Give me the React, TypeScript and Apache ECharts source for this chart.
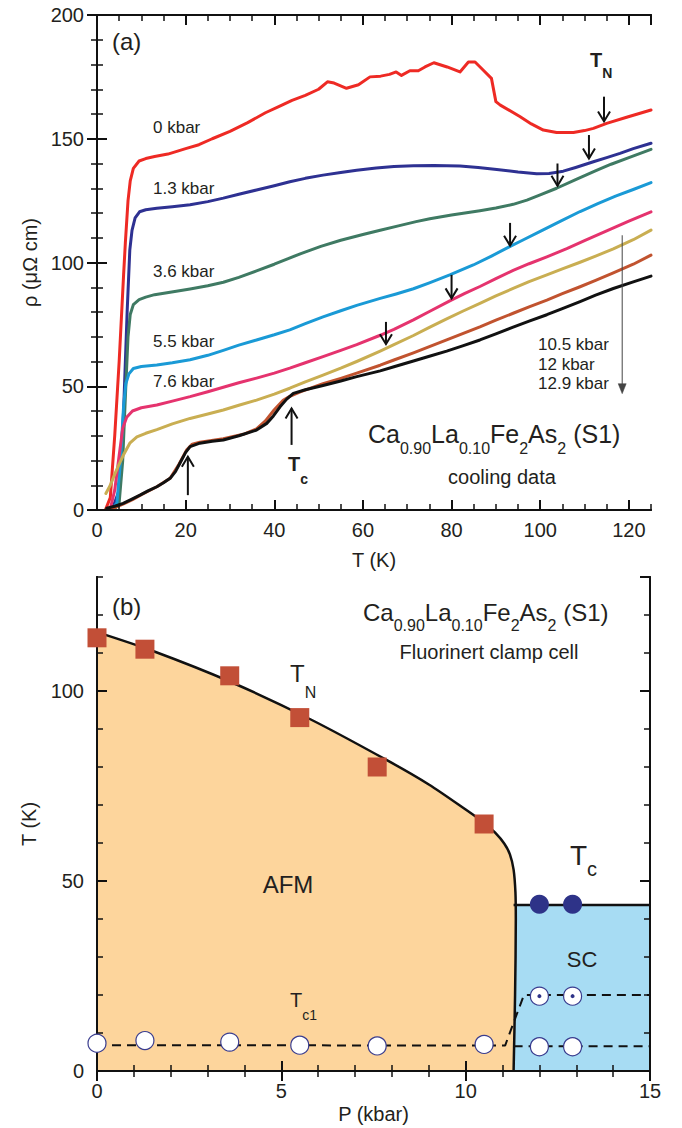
import React, { useEffect, useRef } from 'react';
import * as echarts from 'echarts';

const FONT = '"Liberation Sans", Arial, Helvetica, sans-serif';
const INK = '#231f20';

// ---------- panel (a): resistivity curves, [T (K), rho (μΩ cm)] ----------
const RHO_0_KBAR: [number, number][] = [
  [2, 0.5], [3, 5], [4, 30], [5, 60], [6, 95], [6.4, 108], [7, 125], [7.5, 133], [8.2, 138], [9.5, 141],
  [11, 142], [13, 142.8], [16, 143.8], [20, 146], [23, 147.6], [26, 150], [30, 153], [34, 156.5],
  [38, 160.5], [41, 163], [44, 165.5], [47, 167.5], [50, 170], [52, 173], [53.5, 172.5], [56.3, 170.4],
  [59, 171.8], [61.6, 175], [64, 175.3], [66, 176], [67.5, 177], [68.7, 175.6], [70.6, 177.5],
  [72.5, 177.5], [74, 179], [76, 180.7], [79, 179], [81.9, 177], [83.8, 181], [85.3, 181], [87, 178],
  [89, 174.4], [90, 165], [91, 163.6], [95.4, 159], [98, 156], [100.7, 153.5], [103.7, 152.5],
  [107.5, 152.5], [110, 153.3], [112, 154.2], [115, 156.2], [119.5, 158.7], [125, 161.6],
];
const RHO_1_3_KBAR: [number, number][] = [
  [3.5, 0.5], [5, 8], [6, 40], [6.8, 80], [7.4, 105], [7.9, 113], [8.6, 118], [9.6, 120.5], [11, 121.3],
  [13.5, 121.9], [17, 122.5], [21, 123.3], [25, 124.6], [28.5, 126], [32, 127.6], [36, 129.3], [40, 131],
  [43.5, 132.6], [47, 134], [51, 135.3], [55, 136.4], [58.6, 137.3], [63, 138.2], [67, 138.8],
  [71.4, 139.1], [76, 139.2], [81.9, 139], [86, 138.4], [90.2, 137.6], [95, 136.6], [99.2, 135.9],
  [102, 136], [105.2, 136.9], [108, 138.4], [112, 140.7], [115, 142.4], [118, 144.1], [121, 146],
  [125, 148.2],
];
const RHO_3_6_KBAR: [number, number][] = [
  [4, 0.5], [5, 3], [5.8, 20], [6.5, 50], [7, 70], [7.5, 79], [8.2, 83], [9.5, 85], [11, 86], [13, 87],
  [17.2, 88.2], [21, 89.3], [25, 90.6], [28.5, 92], [32, 94], [36, 96.6], [40, 99.3], [43, 101.5],
  [46, 103.6], [50.5, 106.5], [55, 109], [60, 111.3], [63.9, 113], [68, 114.8], [72, 116.5], [75.1, 117.7],
  [80, 119.2], [86.4, 120.9], [90, 122], [93.9, 123.5], [97, 125.2], [100, 127.3], [103.7, 130],
  [108, 133.5], [112.7, 137.2], [116, 139.7], [120, 142.4], [125, 145.7],
];
const RHO_5_5_KBAR: [number, number][] = [
  [3.5, 0.5], [4.5, 3], [5.3, 20], [6, 42], [6.5, 51], [7.2, 55], [8.2, 57.2], [10, 58], [13.5, 58.6],
  [17, 59.5], [21, 60.7], [25, 62.5], [28.5, 64.5], [32, 66.6], [36, 68.7], [40, 70.8], [43.5, 72.8],
  [47, 75.3], [51, 78], [55, 80.5], [58.6, 82.7], [63.9, 85.5], [67.5, 87.3], [71.4, 89.4], [75, 91.8],
  [79.6, 95], [84.9, 99], [89, 102.6], [93, 106.3], [96, 109], [100, 112.6], [104.5, 116.6], [109, 120.6],
  [113, 123.8], [117, 126.8], [121, 129.5], [125, 132.3],
];
const RHO_7_6_KBAR: [number, number][] = [
  [3, 0.5], [4, 8], [5, 22], [5.8, 33], [6.7, 37.5], [8, 40], [10, 41.3], [13.5, 42.4], [17, 44],
  [21, 45.8], [25, 47.8], [28.5, 49.6], [32, 51.4], [36, 53.3], [40, 55.3], [43.5, 57.3], [47, 59.5],
  [51, 62], [55, 64.5], [58.6, 66.8], [63.9, 70.6], [67, 73], [71.4, 76.8], [75, 80.2], [79.6, 84.5],
  [83, 87.5], [86.4, 90.3], [90, 93.5], [93.9, 96.8], [97.5, 99.5], [101.5, 102.3], [106, 105.6],
  [110, 108.8], [115, 112.8], [120, 116.7], [125, 120.5],
];
const RHO_10_5_KBAR: [number, number][] = [
  [2, 6.7], [3, 10], [4, 14.5], [5, 18.5], [5.9, 22], [7.4, 27], [9, 29.5], [11, 31], [13.5, 32.5],
  [17, 34.8], [21, 37], [25, 38.8], [28.5, 40.4], [32, 42.3], [36, 44.4], [40, 46.8], [43.5, 49.2],
  [47, 51.8], [51, 54.5], [55, 57.3], [58.6, 60], [63.9, 64.2], [67, 66.8], [71.4, 70.5], [75, 73.8],
  [78.9, 77.2], [82.5, 80.3], [86.4, 83.5], [90, 86.5], [93.9, 89.5], [97.5, 92.3], [101.5, 95],
  [105, 97.4], [109, 100.1], [112.5, 102.6], [116.5, 105.5], [121, 109.2], [125, 113.1],
];
const RHO_12_KBAR: [number, number][] = [
  [2, 0.3], [4, 1], [6, 2.5], [8, 4.2], [10, 6.2], [13.5, 9.4], [16.5, 12.8], [18.5, 18.5], [20.2, 24.2],
  [21.5, 26.6], [23.2, 27.4], [28.5, 28.8], [33, 30.6], [36, 32.8], [38, 36], [40, 40.5], [42, 44.3],
  [43.5, 45.9], [46, 47.8], [51, 51], [55, 53.2], [58.6, 55.3], [63.9, 58.5], [67, 60.6], [71.4, 63.5],
  [75, 66], [78.9, 68.7], [82.5, 71.3], [86.4, 74], [90, 76.7], [93.9, 79.5], [97.5, 82.1], [101.5, 84.8],
  [105, 87.4], [109, 90.2], [112.5, 92.8], [116.5, 95.8], [121, 99.3], [125, 103],
];
const RHO_12_9_KBAR: [number, number][] = [
  [2.2, 0.7], [4, 1.5], [5.9, 2.7], [8, 4.5], [9.7, 6], [11.5, 7.7], [13.5, 9.4], [15, 11], [16.5, 12.8],
  [17.7, 15.5], [18.7, 18.9], [20, 23.3], [21, 25.6], [23.2, 27], [26, 27.8], [28.5, 28.3], [32, 30],
  [36, 32.3], [38.3, 35], [39.8, 38], [41.3, 41.7], [42.8, 44.8], [44.3, 47.1], [47, 48.6], [51, 50.3],
  [55, 52.1], [58.6, 53.9], [63.9, 56.2], [67, 57.9], [71.4, 60.2], [75, 62.1], [78.9, 64.2], [82.5, 66.3],
  [86.4, 68.7], [90, 71.2], [93.9, 73.9], [97.5, 76.3], [101.5, 78.9], [105, 81.4], [109, 84.2],
  [112.5, 86.8], [116.5, 89.5], [121, 92.2], [125, 94.5],
];
const CURVE_COLORS = ['#ee2a24', '#2e3192', '#3f7a63', '#1a9ad6', '#e5336e', '#c9ae52', '#c1532f', '#111111'];

// arrows: [T, rho start, rho tip]
const TN_ARROWS: [number, number, number][] = [
  [114.4, 167, 157], [111, 151.5, 142], [103.9, 140, 131], [93.2, 116, 106.8], [80, 95, 85.5], [65.2, 76, 67],
];
const TC_ARROWS: [number, number, number][] = [[20.5, 6, 21.5], [43.9, 26.3, 41]];
const PRESSURE_ARROW: [number, number, number][] = [[118.5, 111, 47]];

// ---------- panel (b): phase diagram, [P (kbar), T (K)] ----------
const TN_POINTS: [number, number][] = [[0, 114], [1.3, 111], [3.6, 104], [5.5, 93], [7.6, 80], [10.5, 65]];
const TC_POINTS: [number, number][] = [[12, 43.9], [12.9, 43.9]];
const TC1_POINTS: [number, number][] = [
  [0, 7.3], [1.3, 8], [3.6, 7.6], [5.5, 6.8], [7.6, 6.6], [10.5, 7], [12, 6.4], [12.9, 6.4],
];
const TC2_POINTS: [number, number][] = [[12, 19.7], [12.9, 19.7]];
const AFM_BOUNDARY: [number, number][] = [
  [0, 115.5], [1.5, 110.6], [3.6, 102.5], [5.8, 92.5], [7.9, 81.6], [9, 75.4], [10, 68.8], [10.5, 65.3],
  [10.8, 62.7], [11.05, 59.8], [11.2, 57], [11.3, 53], [11.35, 47], [11.36, 40], [11.34, 20], [11.3, 0],
];
const SC_BOUNDARY: [number, number][] = [[11.3, 43.7], [15, 43.7]];
const DASH_LOWER_LEFT: [number, number][] = [[0, 6.8], [11.07, 6.7], [11.58, 20], [15, 20]];
const DASH_LOWER_RIGHT: [number, number][] = [[11.3, 6.5], [15, 6.5]];

const X_TICKS_A = { major: 20, minor: 5 };

function arrowRender(filled: boolean, color: string, width: number, headLen: number, headHalf: number) {
  return (params: any, api: any) => {
    const p1 = api.coord([api.value(0), api.value(1)]);
    const p2 = api.coord([api.value(0), api.value(2)]);
    const dir = p2[1] > p1[1] ? 1 : -1;
    const head = [
      [p2[0] - headHalf, p2[1] - dir * headLen],
      [p2[0], p2[1]],
      [p2[0] + headHalf, p2[1] - dir * headLen],
    ];
    return {
      type: 'group',
      children: [
        {
          type: 'line',
          shape: { x1: p1[0], y1: p1[1], x2: p2[0], y2: p2[1] - (filled ? dir * headLen * 0.6 : 0) },
          style: { stroke: color, lineWidth: width, fill: 'none' },
        },
        filled
          ? { type: 'polygon', shape: { points: head }, style: { fill: color, stroke: color, lineWidth: 0.5 } }
          : { type: 'polyline', shape: { points: head }, style: { stroke: color, lineWidth: width, fill: 'none' } },
      ],
    };
  };
}

function subText(x: number, yCenter: number, segs: [string, boolean][], m: number, s: number, drop: number, weight = 'normal') {
  const text = segs.map(([t, isSub]) => `{${isSub ? 's' : 'm'}|${t}}`).join('');
  const L = drop + (m + s) / 2;
  return {
    type: 'text',
    x,
    y: yCenter - m / 2,
    z: 100,
    style: {
      text,
      align: 'left',
      verticalAlign: 'top',
      rich: {
        m: { fontSize: m, lineHeight: m, verticalAlign: 'top', fontFamily: FONT, fill: INK, fontWeight: weight },
        s: { fontSize: s, lineHeight: Math.max(L, m), verticalAlign: 'bottom', fontFamily: FONT, fill: INK, fontWeight: weight },
      },
    },
  };
}

function plain(x: number, y: number, text: string, size: number, align = 'left') {
  return {
    type: 'text',
    x,
    y,
    z: 100,
    style: { text, fontSize: size, fontFamily: FONT, fill: INK, align, verticalAlign: 'middle' },
  };
}

export default function App() {
  const ref = useRef<HTMLDivElement>(null);
  useEffect(() => {
    document.body.style.margin = '0';
    if (!ref.current) return;
    const chart = echarts.init(ref.current, undefined, { renderer: 'svg' });

    const axisLine = { show: true, lineStyle: { color: '#111', width: 2 } };
    const label = (show: boolean, margin = 10, showMax = false) => ({
      show, fontSize: 20, fontFamily: FONT, color: INK, margin, showMaxLabel: showMax,
    });
    const tick = (len: number, w = 2) => ({ show: true, inside: true, length: len, lineStyle: { color: '#111', width: w } });
    const minor = { show: true, splitNumber: 5, length: 6, lineStyle: { color: '#111', width: 1.5 } };
    const nameStyle = { fontSize: 20, fontFamily: FONT, color: INK };
    const noSplit = { show: false };

    const xAxis: any[] = [
      { gridIndex: 0, type: 'value', position: 'bottom', min: 0, max: 125, interval: X_TICKS_A.major, axisLine, axisTick: tick(10), axisLabel: label(true, 10), splitLine: noSplit, name: 'T (K)', nameLocation: 'middle', nameGap: 40, nameTextStyle: nameStyle, z: 3 },
      { gridIndex: 0, type: 'value', position: 'bottom', min: 0, max: 125, interval: X_TICKS_A.minor, axisLine, axisTick: tick(6, 1.5), axisLabel: { show: false }, splitLine: noSplit, z: 3 },
      { gridIndex: 0, type: 'value', position: 'top', min: 0, max: 125, interval: X_TICKS_A.major, axisLine, axisTick: tick(10), axisLabel: { show: false }, splitLine: noSplit, z: 3 },
      { gridIndex: 0, type: 'value', position: 'top', min: 0, max: 125, interval: X_TICKS_A.minor, axisLine, axisTick: tick(6, 1.5), axisLabel: { show: false }, splitLine: noSplit, z: 3 },
      { gridIndex: 1, type: 'value', position: 'bottom', min: 0, max: 15, interval: 5, axisLine, axisTick: tick(10), minorTick: minor, axisLabel: label(true, 10, true), splitLine: noSplit, name: 'P (kbar)', nameLocation: 'middle', nameGap: 33, nameTextStyle: nameStyle, z: 3 },
      { gridIndex: 1, type: 'value', position: 'top', min: 0, max: 15, interval: 5, axisLine, axisTick: tick(10), minorTick: minor, axisLabel: { show: false }, splitLine: noSplit, z: 3 },
    ];
    const yAxis: any[] = [
      { gridIndex: 0, type: 'value', position: 'left', min: 0, max: 200, interval: 50, axisLine, axisTick: tick(10), minorTick: minor, axisLabel: label(true, 13, true), splitLine: noSplit, name: 'ρ (μΩ cm)', nameLocation: 'middle', nameGap: 53, nameTextStyle: nameStyle, z: 3 },
      { gridIndex: 0, type: 'value', position: 'right', min: 0, max: 200, interval: 50, axisLine, axisTick: tick(10), minorTick: minor, axisLabel: { show: false }, splitLine: noSplit, z: 3 },
      { gridIndex: 1, type: 'value', position: 'left', min: 0, max: 130, interval: 50, axisLine, axisTick: tick(10), axisLabel: label(true, 13), splitLine: noSplit, name: 'T (K)', nameLocation: 'middle', nameGap: 58, nameTextStyle: nameStyle, z: 3 },
      { gridIndex: 1, type: 'value', position: 'left', min: 0, max: 130, interval: 10, axisLine, axisTick: tick(6, 1.5), axisLabel: { show: false }, splitLine: noSplit, z: 3 },
      { gridIndex: 1, type: 'value', position: 'right', min: 0, max: 130, interval: 50, axisLine, axisTick: tick(10), axisLabel: { show: false }, splitLine: noSplit, z: 3 },
      { gridIndex: 1, type: 'value', position: 'right', min: 0, max: 130, interval: 10, axisLine, axisTick: tick(6, 1.5), axisLabel: { show: false }, splitLine: noSplit, z: 3 },
    ];

    const curves = [RHO_0_KBAR, RHO_1_3_KBAR, RHO_3_6_KBAR, RHO_5_5_KBAR, RHO_7_6_KBAR, RHO_10_5_KBAR, RHO_12_KBAR, RHO_12_9_KBAR];
    const curveSeries = curves.map((d, i) => ({
      type: 'line', xAxisIndex: 0, yAxisIndex: 0, data: d, symbol: 'none', showSymbol: false,
      smooth: false,
      lineStyle: { color: CURVE_COLORS[i], width: 3, cap: 'round', join: 'round' }, z: 2,
    }));

    const b = { xAxisIndex: 4, yAxisIndex: 2 };
    const openCircle = { color: '#ffffff', borderColor: '#3a3d8f', borderWidth: 1.2, opacity: 1 };
    const series: any[] = [
      ...curveSeries,
      { type: 'custom', xAxisIndex: 0, yAxisIndex: 0, data: TN_ARROWS, renderItem: arrowRender(false, '#111', 2, 10, 6), z: 5, clip: false },
      { type: 'custom', xAxisIndex: 0, yAxisIndex: 0, data: TC_ARROWS, renderItem: arrowRender(false, '#111', 2, 10, 6), z: 5, clip: false },
      { type: 'custom', xAxisIndex: 0, yAxisIndex: 0, data: PRESSURE_ARROW, renderItem: arrowRender(true, '#444', 1, 10, 4), z: 5, clip: false },
      { type: 'line', ...b, data: SC_BOUNDARY, symbol: 'none', areaStyle: { color: '#a7dcf3', opacity: 1 }, lineStyle: { color: '#111', width: 2.5 }, z: 1 },
      { type: 'line', ...b, data: AFM_BOUNDARY, symbol: 'none', smooth: 0.3, areaStyle: { color: '#fdd59c', opacity: 1 }, lineStyle: { color: '#111', width: 2.5 }, z: 1 },
      { type: 'line', ...b, data: DASH_LOWER_LEFT, symbol: 'none', lineStyle: { color: '#111', width: 2, type: [9, 6] }, z: 2 },
      { type: 'line', ...b, data: DASH_LOWER_RIGHT, symbol: 'none', lineStyle: { color: '#111', width: 2, type: [9, 6] }, z: 2 },
      { type: 'scatter', ...b, data: TN_POINTS, symbol: 'rect', symbolSize: 19, itemStyle: { color: '#c24f37', opacity: 1 }, z: 6, clip: false },
      { type: 'scatter', ...b, data: TC_POINTS, symbol: 'circle', symbolSize: 19, itemStyle: { color: '#2e3388', opacity: 1 }, z: 6, clip: false },
      { type: 'scatter', ...b, data: TC1_POINTS, symbol: 'circle', symbolSize: 18, itemStyle: openCircle, z: 6, clip: false },
      { type: 'scatter', ...b, data: TC2_POINTS, symbol: 'circle', symbolSize: 18, itemStyle: openCircle, z: 6, clip: false },
      { type: 'scatter', ...b, data: TC2_POINTS, symbol: 'circle', symbolSize: 4, itemStyle: { color: '#2e3388', opacity: 1 }, z: 7, clip: false },
    ];

    const formula: [string, boolean][] = [['Ca', false], ['0.90', true], ['La', false], ['0.10', true], ['Fe', false], ['2', true], ['As', false], ['2', true], [' (S1)', false]];
    const graphic: any[] = [
      plain(112, 41, '(a)', 24),
      plain(153, 127, '0 kbar', 17),
      plain(153, 188, '1.3 kbar', 17),
      plain(153, 271, '3.6 kbar', 17),
      plain(153, 341, '5.5 kbar', 17),
      plain(153, 381, '7.6 kbar', 17),
      plain(538, 344, '10.5 kbar', 17),
      plain(538, 364, '12 kbar', 17),
      plain(538, 383, '12.9 kbar', 17),
      subText(590, 60, [['T', false], ['N', true]], 20, 14, 13, 'bold'),
      subText(288, 464, [['T', false], ['c', true]], 20, 14, 15, 'bold'),
      subText(368, 434, formula, 25, 16, 14),
      plain(502, 477, 'cooling data', 20, 'center'),
      plain(112, 606, '(b)', 24),
      subText(363, 612, formula, 24, 16, 13),
      plain(489, 652, 'Fluorinert clamp cell', 20, 'center'),
      subText(290, 673, [['T', false], ['N', true]], 24, 16, 19),
      plain(288, 884, 'AFM', 24, 'center'),
      subText(570, 855, [['T', false], ['c', true]], 28, 20, 14),
      plain(582, 959, 'SC', 22, 'center'),
      subText(290, 1000, [['T', false], ['c1', true]], 20, 14, 15),
    ];

    chart.setOption({
      animation: false,
      backgroundColor: '#ffffff',
      grid: [
        { left: 97, top: 15, width: 554, height: 495 },
        { left: 97, top: 577, width: 553, height: 494 },
      ],
      xAxis,
      yAxis,
      series,
      graphic,
    });
    return () => chart.dispose();
  }, []);
  return <div ref={ref} style={{ width: 682, height: 1128 }} />;
}
